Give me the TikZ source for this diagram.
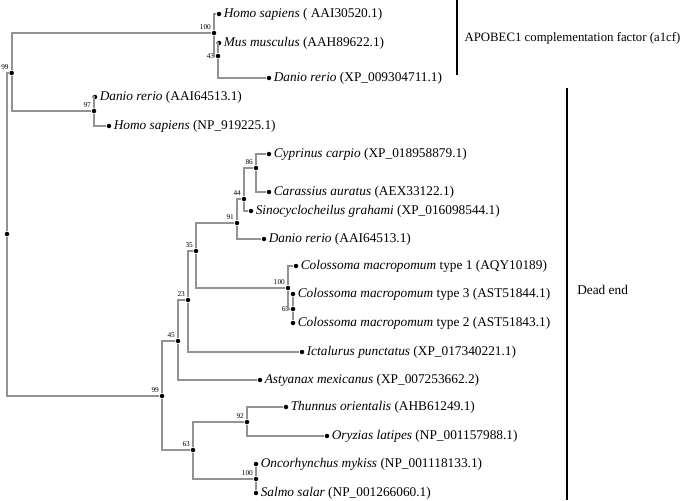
\documentclass[tikz,border=0pt]{standalone}
\usepackage{fontspec}
\setmainfont{Liberation Serif}
\usetikzlibrary{positioning,calc}
\tikzset{
	vert/.style={circle,inner sep=0,fill=black,minimum size=4.5pt*0.75},
	edge/.style={color=gray!85, line width=1.5pt},
	bar/.style={color=black, line width=0.8pt},
	taxon/.style={font=\fontsize{10}{12}\selectfont, inner sep=1.5pt},
	group/.style={font=\fontsize{9.6}{11}\selectfont, inner sep=1pt},
	boot/.style={font=\fontsize{5.5}{6}\selectfont, inner sep=0.8pt}
}

\begin{document}
\begin{tikzpicture}[x=0.75pt,y=-0.75pt]
		\useasboundingbox (0,0) rectangle (685,500);
		%%%internal nodes
		\node[vert] (root) at (7,234) {};
		\node[vert,label={[boot]above left:99}] (n99a) at (11.7,73) {};
		\node[vert,label={[boot]above left:100}] (n100a) at (214,33) {};
		\node[vert,label={[boot]left:43}] (n43) at (218,56) {};
		\node[vert,label={[boot]above left:97}] (n97) at (94,111) {};
		\node[vert,label={[boot]above left:99}] (n99b) at (162,396) {};
		\node[vert,label={[boot]above left:45}] (n45) at (178,341) {};
		\node[vert,label={[boot]above left:23}] (n23) at (188,300) {};
		\node[vert,label={[boot]above left:35}] (n35) at (196,251) {};
		\node[vert,label={[boot]above left:91}] (n91) at (237,223) {};
		\node[vert,label={[boot]above left:44}] (n44) at (244,199) {};
		\node[vert,label={[boot]above left:86}] (n86) at (256,168) {};
		\node[vert,label={[boot]above left:100}] (n100b) at (288,288) {};
		\node[vert,label={[boot]left:65}] (n65) at (293,309) {};
		\node[vert,label={[boot]above left:63}] (n63) at (193,450) {};
		\node[vert,label={[boot]above left:92}] (n92) at (247,422) {};
		\node[vert,label={[boot]above left:100}] (n100c) at (256,479) {};
		
		%%%leaves
		\node[vert,label={[taxon]right:\textit{Homo sapiens} ( AAI30520.1)}] (hsa1) at (219,14) {};
		\node[vert,label={[taxon]right:\textit{Mus musculus} (AAH89622.1)}] (mmu) at (219,43) {};
		\node[vert,label={[taxon]right:\textit{Danio rerio} (XP\_009304711.1)}] (dre1) at (269,78) {};
		\node[vert,label={[taxon]right:\textit{Danio rerio} (AAI64513.1)}] (dre2) at (95,97) {};
		\node[vert,label={[taxon]right:\textit{Homo sapiens} (NP\_919225.1)}] (hsa2) at (109,126) {};
		\node[vert,label={[taxon]right:\textit{Cyprinus carpio} (XP\_018958879.1)}] (cca) at (269,154) {};
		\node[vert,label={[taxon]right:\textit{Carassius auratus} (AEX33122.1)}] (cau) at (269,192) {};
		\node[vert,label={[taxon]right:\textit{Sinocyclocheilus grahami} (XP\_016098544.1)}] (sgr) at (251,211) {};
		\node[vert,label={[taxon]right:\textit{Danio rerio} (AAI64513.1)}] (dre3) at (264,239) {};
		\node[vert,label={[taxon]right:\textit{Colossoma macropomum} type 1 (AQY10189)}] (cma1) at (296,266) {};
		\node[vert,label={[taxon]right:\textit{Colossoma macropomum} type 3 (AST51844.1)}] (cma3) at (293,294) {};
		\node[vert,label={[taxon]right:\textit{Colossoma macropomum} type 2 (AST51843.1)}] (cma2) at (293,323) {};
		\node[vert,label={[taxon]right:\textit{Ictalurus punctatus} (XP\_017340221.1)}] (ipu) at (302,352) {};
		\node[vert,label={[taxon]right:\textit{Astyanax mexicanus} (XP\_007253662.2)}] (ame) at (260,380) {};
		\node[vert,label={[taxon]right:\textit{Thunnus orientalis} (AHB61249.1)}] (tor) at (286,407) {};
		\node[vert,label={[taxon]right:\textit{Oryzias latipes} (NP\_001157988.1)}] (ola) at (327,436) {};
		\node[vert,label={[taxon]right:\textit{Oncorhynchus mykiss} (NP\_001118133.1)}] (omy) at (256,464) {};
		\node[vert,label={[taxon]right:\textit{Salmo salar} (NP\_001266060.1)}] (ssa) at (256,493) {};
		
		%%%branches
		\draw[edge] (root) |- (n99a);
		\draw[edge] (root) |- (n99b);
		\draw[edge] (n99a) |- (n100a);
		\draw[edge] (n99a) |- (n97);
		\draw[edge] (n100a) |- (hsa1);
		\draw[edge] (n100a) |- (n43);
		\draw[edge] (n43) |- (mmu);
		\draw[edge] (n43) |- (dre1);
		\draw[edge] (n97) |- (dre2);
		\draw[edge] (n97) |- (hsa2);
		\draw[edge] (n99b) |- (n45);
		\draw[edge] (n99b) |- (n63);
		\draw[edge] (n45) |- (n23);
		\draw[edge] (n45) |- (ame);
		\draw[edge] (n23) |- (n35);
		\draw[edge] (n23) |- (ipu);
		\draw[edge] (n35) |- (n91);
		\draw[edge] (n35) |- (n100b);
		\draw[edge] (n91) |- (n44);
		\draw[edge] (n91) |- (dre3);
		\draw[edge] (n44) |- (n86);
		\draw[edge] (n44) |- (sgr);
		\draw[edge] (n86) |- (cca);
		\draw[edge] (n86) |- (cau);
		\draw[edge] (n100b) |- (cma1);
		\draw[edge] (n100b) |- (n65);
		\draw[edge] (n65) -- (cma3);
		\draw[edge] (n65) -- (cma2);
		\draw[edge] (n63) |- (n92);
		\draw[edge] (n63) |- (n100c);
		\draw[edge] (n92) |- (tor);
		\draw[edge] (n92) |- (ola);
		\draw[edge] (n100c) -- (omy);
		\draw[edge] (n100c) -- (ssa);
		
		%%%groups
		\coordinate (a1top) at (457,0);
		\coordinate (a1bot) at (457,75);
		\coordinate (detop) at (567,88);
		\coordinate (debot) at (567,500);
		\draw[bar] (a1top) -- (a1bot);
		\draw[bar] (detop) -- (debot);
		\node[group,anchor=west] (a1cf) at (463,38) {APOBEC1 complementation factor (a1cf)};
		\node[taxon,anchor=west] (deadend) at (575,290) {Dead end};
	\end{tikzpicture}
\end{document}
